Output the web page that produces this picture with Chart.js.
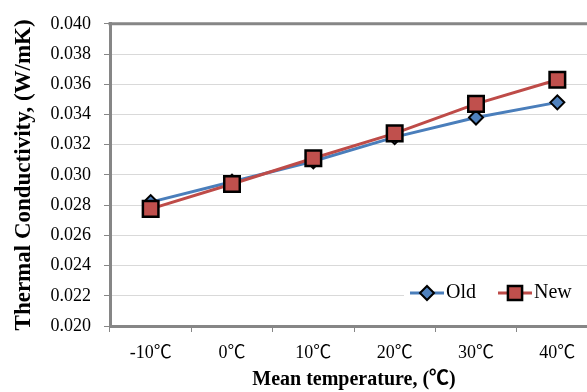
<!DOCTYPE html>
<html>
<head>
<meta charset="utf-8">
<script src="https://cdn.jsdelivr.net/npm/chart.js@4"></script>
<style>
html,body{margin:0;padding:0;background:#fff;overflow:hidden;width:587px;height:392px;}
canvas{display:block;}
</style>
</head>
<body>
<canvas id="c" width="598" height="392" style="width:598px;height:392px"></canvas>
<script>
const categories = ['-10\u2103', '0\u2103', '10\u2103', '20\u2103', '30\u2103', '40\u2103'];
const oldValues = [0.0282, 0.02955, 0.0309, 0.0325, 0.0338, 0.0348];
const newValues = [0.02775, 0.0294, 0.0311, 0.03275, 0.0347, 0.0363];
const seriesNames = ['Old', 'New'];
const yMin = 0.020, yMax = 0.040, yStep = 0.002;

const SERIF = '"Liberation Serif", "Times New Roman", "Noto Sans CJK SC", serif';
const FRAME = '#868686';

const framePlugin = {
  id: 'frameTop',
  beforeDatasetsDraw(chart) {
    const a = chart.chartArea, ctx = chart.ctx;
    ctx.save();
    ctx.strokeStyle = FRAME;
    ctx.lineWidth = 3;
    ctx.beginPath();
    ctx.moveTo(a.left - 1.5, a.top);
    ctx.lineTo(a.right, a.top);
    ctx.stroke();
    ctx.restore();
  }
};

const legendPlugin = {
  id: 'insideLegend',
  afterDatasetsDraw(chart) {
    const a = chart.chartArea, ctx = chart.ctx;
    const y = a.bottom - 33;
    ctx.save();
    ctx.fillStyle = '#fff';
    ctx.fillRect(a.right - 194, y - 12, 194, 24);
    const items = [
      {ds: chart.data.datasets.find(d => d.label === seriesNames[0]), x0: a.right - 188},
      {ds: chart.data.datasets.find(d => d.label === seriesNames[1]), x0: a.right - 100}
    ];
    ctx.font = '20px ' + SERIF;
    ctx.textBaseline = 'middle';
    items.forEach(it => {
      const ds = it.ds;
      ctx.strokeStyle = ds.borderColor;
      ctx.lineWidth = ds.borderWidth;
      ctx.beginPath();
      ctx.moveTo(it.x0, y);
      ctx.lineTo(it.x0 + 34, y);
      ctx.stroke();
      ctx.fillStyle = ds.pointBackgroundColor;
      ctx.strokeStyle = ds.pointBorderColor;
      ctx.lineWidth = ds.pointBorderWidth;
      Chart.helpers.drawPoint(ctx, {
        pointStyle: ds.pointStyle,
        radius: ds.pointStyle === 'rect' ? 10 : 7,
        borderWidth: ds.pointBorderWidth,
        rotation: 0
      }, it.x0 + 17, y);
      ctx.fillStyle = '#000';
      ctx.fillText(ds.label, it.x0 + 36, y);
    });
    ctx.restore();
  }
};

new Chart(document.getElementById('c'), {
  type: 'line',
  data: {
    labels: categories,
    datasets: [
      {
        label: seriesNames[0],
        data: oldValues,
        borderColor: '#4a7ebb',
        borderWidth: 3,
        pointStyle: 'rectRot',
        pointRadius: 7,
        pointHoverRadius: 7,
        pointBackgroundColor: '#4f81bd',
        pointBorderColor: '#000',
        pointBorderWidth: 2,
        tension: 0,
        order: 2
      },
      {
        label: seriesNames[1],
        data: newValues,
        borderColor: '#be4b48',
        borderWidth: 3,
        pointStyle: 'rect',
        pointRadius: 11,
        pointHoverRadius: 11,
        pointBackgroundColor: '#c0504d',
        pointBorderColor: '#000',
        pointBorderWidth: 2.5,
        tension: 0,
        order: 1
      }
    ]
  },
  options: {
    responsive: false,
    animation: false,
    devicePixelRatio: 1,
    layout: { autoPadding: false, padding: { top: 18, right: 0, bottom: 0, left: 0 } },
    plugins: {
      legend: { display: false },
      tooltip: { enabled: false }
    },
    scales: {
      x: {
        offset: true,
        grid: { offset: true, drawOnChartArea: false, drawTicks: true, tickLength: 6, tickColor: FRAME, tickWidth: 1 },
        border: { display: true, color: FRAME, width: 3 },
        ticks: { color: '#000', font: { family: SERIF, size: 18 }, padding: 10, maxRotation: 0 },
        title: { display: true, text: 'Mean temperature, (\u2103)', color: '#000', font: { family: SERIF, size: 20, weight: 'bold' }, padding: { top: 0, bottom: 0 } },
        afterFit(scale) { scale.height = 66; scale.paddingLeft = 0; scale.paddingRight = 0; }
      },
      y: {
        min: yMin,
        max: yMax,
        grid: { color: '#d9d9d9', lineWidth: 1, tickLength: 6, tickColor: FRAME, drawTicks: true },
        border: { display: true, color: FRAME, width: 3 },
        ticks: { stepSize: yStep, color: '#000', font: { family: SERIF, size: 18 }, padding: 13, callback: v => v.toFixed(3) },
        title: { display: true, text: 'Thermal Conductivity, (W/mK)', color: '#000', font: { family: SERIF, size: 23, weight: 'bold' }, padding: { top: 10, bottom: 0 } },
        afterFit(scale) { scale.width = 110; }
      }
    }
  },
  plugins: [framePlugin, legendPlugin]
});
</script>
</body>
</html>
